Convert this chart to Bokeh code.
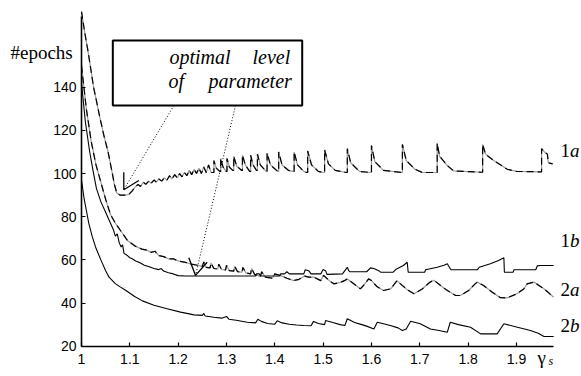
from bokeh.plotting import figure
from bokeh.models import FixedTicker, Label, BoxAnnotation, Range1d
from bokeh.embed import file_html
from bokeh.resources import INLINE

# ---------------- data ----------------
x_1a = [1.000, 1.007, 1.014, 1.025, 1.038, 1.047, 1.055, 1.063, 1.068, 1.073, 1.080, 1.090, 1.098, 1.105,
        1.110, 1.117, 1.122, 1.128, 1.133, 1.139, 1.144, 1.150, 1.155, 1.160, 1.166, 1.171, 1.177, 1.182,
        1.187, 1.193, 1.198, 1.203, 1.208, 1.213, 1.218, 1.223, 1.228, 1.233, 1.238, 1.243, 1.248, 1.253,
        1.258, 1.263, 1.268,
        1.274, 1.274, 1.279, 1.286,
        1.288, 1.288, 1.293, 1.299,
        1.301, 1.301, 1.306, 1.313,
        1.315, 1.315, 1.321, 1.331,
        1.333, 1.333, 1.339, 1.348,
        1.350, 1.350, 1.355, 1.362,
        1.364, 1.364, 1.370, 1.382,
        1.384, 1.384, 1.391, 1.406,
        1.408, 1.408, 1.415, 1.428, 1.438,
        1.440, 1.440, 1.447, 1.460, 1.466,
        1.468, 1.468, 1.476, 1.490, 1.501,
        1.503, 1.503, 1.511, 1.525, 1.548,
        1.550, 1.550, 1.557, 1.575, 1.598,
        1.600, 1.600, 1.607, 1.625, 1.662,
        1.664, 1.664, 1.672, 1.690, 1.705, 1.734,
        1.736, 1.736, 1.741, 1.757, 1.770, 1.828,
        1.830, 1.830, 1.836, 1.853, 1.881, 1.900, 1.950,
        1.952, 1.952, 1.958, 1.964, 1.966, 1.975]
y_1a = [175, 165, 156, 140, 126, 117, 110, 101, 95, 91, 90, 90, 90.3, 92,
        93.5, 95, 94, 96, 95, 96.5, 95.5, 97, 96, 97.5, 96.5, 98, 97, 99,
        97.5, 99.5, 98, 100, 98.5, 100.5, 99, 101.5, 99.5, 102, 100, 102.5, 100, 103,
        100.5, 104, 100.5,
        100.5, 106, 102.5, 101,
        101, 107, 103, 101,
        101, 107, 103, 101.5,
        101.5, 108, 103.5, 101.5,
        101.5, 108.5, 104, 101,
        101, 108.5, 104, 101.5,
        101.5, 109, 104, 101,
        101, 109.5, 104, 101,
        101, 110, 104, 101.5, 101,
        101, 110, 104, 101, 100.5,
        100.5, 110.5, 104, 101, 100.5,
        100.5, 111, 104.5, 101.5, 100.5,
        100.5, 111.5, 105, 101, 100.5,
        100.5, 113, 105.5, 101.5, 100.5,
        100.5, 113.5, 106, 102, 100.5, 100.5,
        100.5, 114, 108, 103.7, 101.2, 100.6,
        100.6, 113.5, 109, 106, 102, 101, 100.8,
        100.8, 111.5, 110, 109, 105, 104.5]

x_1b = [1.000, 1.008, 1.017, 1.025, 1.031, 1.040, 1.052, 1.060, 1.066, 1.070, 1.074, 1.078, 1.082, 1.085,
        1.088, 1.095, 1.100, 1.105, 1.112, 1.120, 1.130, 1.140, 1.150, 1.160, 1.165, 1.170, 1.180, 1.190,
        1.200, 1.215, 1.236, 1.300, 1.360, 1.362, 1.368, 1.370, 1.410, 1.412, 1.420, 1.425, 1.430, 1.460,
        1.463, 1.470, 1.475, 1.495, 1.500, 1.505, 1.508, 1.540, 1.545, 1.550, 1.553, 1.555, 1.590, 1.598,
        1.605, 1.615, 1.619, 1.645, 1.650, 1.666, 1.674, 1.676, 1.710, 1.712, 1.736, 1.750, 1.757, 1.763,
        1.765, 1.819, 1.823, 1.846, 1.863, 1.874, 1.875, 1.893, 1.895, 1.940, 1.943, 1.950, 1.977]
y_1b = [142, 124, 110, 100, 93, 87, 81, 77, 74, 71, 72, 68, 66, 67,
        63, 62, 61, 60.5, 59.5, 58.8, 57.5, 56.8, 56, 55.5, 56, 54.8, 54, 53.5,
        52.7, 52.5, 52.5, 52.5, 52.5, 53.5, 53.5, 52.5, 52.5, 53.5, 53.5, 54.5, 53.5, 53.5,
        55.4, 55, 53.5, 53.5, 55.5, 55, 53.3, 53.5, 55, 56.6, 55, 54.5, 54.5, 56.3,
        56, 55, 54.3, 54.3, 55.5, 57.4, 58.9, 54.3, 54.3, 55.4, 56.6, 57.5, 58.2, 55.9,
        55.4, 55.4, 56.6, 58.2, 59.7, 61, 54.3, 54.3, 55.4, 55.4, 57.2, 57.4, 57.4]

x_2a = [1.000, 1.010, 1.020, 1.030, 1.040, 1.050, 1.060, 1.070, 1.081, 1.095, 1.110, 1.125, 1.135, 1.144,
        1.152, 1.160, 1.170, 1.180, 1.190, 1.200, 1.213, 1.227, 1.240, 1.250, 1.253, 1.258, 1.266, 1.268,
        1.274, 1.282, 1.284, 1.290, 1.298, 1.300, 1.306, 1.315, 1.317, 1.323, 1.332, 1.334, 1.340, 1.350,
        1.352, 1.358, 1.370, 1.373, 1.380, 1.395, 1.400, 1.412, 1.425, 1.439, 1.450, 1.462, 1.470, 1.481,
        1.495, 1.501, 1.512, 1.522, 1.535, 1.545, 1.550, 1.560, 1.577, 1.585, 1.594, 1.600, 1.612, 1.625,
        1.640, 1.653, 1.660, 1.675, 1.688, 1.705, 1.720, 1.729, 1.743, 1.757, 1.774, 1.784, 1.801, 1.815,
        1.819, 1.832, 1.850, 1.867, 1.881, 1.901, 1.915, 1.922, 1.936, 1.957, 1.977]
y_2a = [150, 130, 115, 104, 96, 88, 81, 77, 73.5, 69, 66.5, 65, 64.5, 63.5,
        64, 62, 61.5, 60.5, 60.5, 59.5, 59, 58, 57.5, 57, 59, 56.5, 56.3, 58.5,
        56, 55.8, 58, 55.5, 55.3, 57.5, 55, 54.8, 57, 54.5, 54.3, 56.5, 54, 53.5,
        56, 53.3, 52.3, 54.5, 52, 51.5, 53.5, 52.7, 51.5, 50.4, 51, 52.5, 52, 52,
        50.4, 52.8, 50.5, 48.9, 49.5, 50.5, 51.2, 49.5, 46.6, 48.5, 51.2, 50.4, 47.5, 45.8,
        46.6, 50.4, 48.9, 46, 44.3, 46.5, 49.5, 50.6, 48.1, 45.8, 43.5, 43.5, 45.8, 49,
        49.7, 48.1, 45, 42.5, 42.4, 44.3, 46.5, 48.9, 49.7, 46.6, 42.7]

x_2b = [1.000, 1.005, 1.010, 1.015, 1.022, 1.029, 1.040, 1.050, 1.057, 1.070, 1.080, 1.092, 1.110, 1.126,
        1.150, 1.175, 1.205, 1.233, 1.250, 1.253, 1.256, 1.274, 1.290, 1.300, 1.305, 1.320, 1.343, 1.360,
        1.365, 1.372, 1.385, 1.400, 1.405, 1.415, 1.430, 1.445, 1.460, 1.475, 1.480, 1.490, 1.503, 1.505,
        1.520, 1.535, 1.545, 1.550, 1.565, 1.580, 1.590, 1.605, 1.612, 1.625, 1.639, 1.655, 1.664, 1.672,
        1.681, 1.701, 1.722, 1.740, 1.757, 1.763, 1.780, 1.805, 1.826, 1.860, 1.874, 1.902, 1.929, 1.945,
        1.957, 1.977]
y_2b = [97, 89, 83, 77, 71, 66, 60, 55, 52, 49, 47.5, 45.8, 43, 41,
        39, 37.5, 35.8, 34.5, 34.3, 35.2, 34, 33.4, 33, 33.8, 32.5, 32, 31.1, 30.8,
        32.5, 31.5, 30.5, 30.2, 31.8, 30.8, 30.2, 29.8, 29.6, 29.5, 31.5, 30.5, 30, 31.9,
        31, 30, 29.6, 32.7, 31, 30, 29.3, 28, 31.1, 30.4, 29.6, 28.5, 27.3, 28,
        31.6, 30.4, 28, 27.3, 26.5, 31.1, 30, 28.8, 25.7, 25.7, 30.4, 28.8, 27.3, 26,
        24.5, 24.5]

curve_names = ["1a", "1b", "2a", "2b"]
curve_label_y = [110.7, 69.0, 46.3, 29.8]

x_ticks = [1.0, 1.1, 1.2, 1.3, 1.4, 1.5, 1.6, 1.7, 1.8, 1.9]
x_tick_labels = ["1", "1.1", "1.2", "1.3", "1.4", "1.5", "1.6", "1.7", "1.8", "1.9"]
y_ticks = [20, 40, 60, 80, 100, 120, 140]

# annotation: "optimal level of parameter" pointers
ptr1_x = [1.191, 1.0875]
ptr1_y = [131.5, 92.5]
ptr2_x = [1.3186, 1.236]
ptr2_y = [131.5, 52.8]
vee1_x = [1.0875, 1.0875, 1.1186]
vee1_y = [100.6, 92.5, 96.8]
vee2_x = [1.222, 1.236, 1.260]
vee2_y = [61.0, 52.8, 58.9]

# ---------------- figure ----------------
# the frame covers the whole canvas; the axes sit at fixed data positions
p = figure(width=581, height=370,
           x_range=Range1d(0.8324, 2.0346), y_range=Range1d(8.74, 180.19),
           output_backend="svg", toolbar_location=None,
           min_border=0, min_border_left=0, min_border_right=0,
           min_border_top=0, min_border_bottom=0)
p.outline_line_color = None
p.xgrid.visible = False
p.ygrid.visible = False
p.background_fill_color = "white"
p.border_fill_color = "white"

for ax in (p.xaxis[0], p.yaxis[0]):
    ax.axis_line_width = 1.6
    ax.axis_line_color = "black"
    ax.major_tick_in = 4
    ax.major_tick_out = 0
    ax.major_tick_line_color = "black"
    ax.major_tick_line_width = 1.2
    ax.minor_tick_line_color = None
    ax.major_label_text_font = "Liberation Sans"
    ax.major_label_text_font_size = "14px"
    ax.major_label_text_color = "black"

p.xaxis[0].fixed_location = 20
p.xaxis[0].bounds = (1.0, 1.9766)
p.xaxis[0].ticker = FixedTicker(ticks=x_ticks)
p.xaxis[0].major_label_overrides = dict(zip(x_ticks, x_tick_labels))
p.xaxis[0].major_label_standoff = 8
p.yaxis[0].fixed_location = 1.0
p.yaxis[0].bounds = (20, 173)
p.yaxis[0].ticker = FixedTicker(ticks=y_ticks)
p.yaxis[0].major_label_standoff = 5

grey = "#9a9a9a"
# dashed-looking curves: grey line with black dashes on top
p.line(x_1a, y_1a, line_color=grey, line_width=1.2)
p.line(x_1a, y_1a, line_color="black", line_width=1.2, line_dash="7 4")
p.line(x_2a, y_2a, line_color=grey, line_width=1.2)
p.line(x_2a, y_2a, line_color="black", line_width=1.2, line_dash="7 4")
p.line(x_1b, y_1b, line_color="black", line_width=1.1)
p.line(x_2b, y_2b, line_color="black", line_width=1.1)

# pointers
p.line(ptr1_x, ptr1_y, line_color="black", line_width=1, line_dash="1 2")
p.line(ptr2_x, ptr2_y, line_color="black", line_width=1, line_dash="1 2")
p.line(vee1_x, vee1_y, line_color="black", line_width=1.3)
p.line(vee2_x, vee2_y, line_color="black", line_width=1.3)

# annotation box
box = BoxAnnotation(left=1.0648, right=1.4567, top=161.66, bottom=131.54,
                    fill_color="white", fill_alpha=1.0,
                    line_color="black", line_alpha=1.0, line_width=2)
p.add_layout(box)

serif = "Liberation Serif"
for txt, xx, yy in [("optimal", 1.1821, 154.0), ("level", 1.3538, 154.0),
                    ("of", 1.1800, 143.1), ("parameter", 1.2628, 143.1)]:
    p.add_layout(Label(x=xx, y=yy, text=txt, text_font=serif, text_font_size="20px",
                       text_font_style="italic", text_color="black", text_baseline="middle"))

# y label "#epochs"
p.add_layout(Label(x=0.8531, y=156.0, text="#epochs", text_font=serif, text_font_size="19px",
                   text_color="black", text_baseline="middle"))

# x label gamma_s
p.add_layout(Label(x=1.9435, y=14.6, text="γ", text_font=serif, text_font_size="19px",
                   text_color="black", text_baseline="middle"))
p.add_layout(Label(x=1.9663, y=13.0, text="s", text_font=serif, text_font_size="12px",
                   text_font_style="italic", text_color="black", text_baseline="middle"))

# curve labels
for name, yy in zip(curve_names, curve_label_y):
    p.add_layout(Label(x=1.9911, y=yy, text=name[0], text_font=serif, text_font_size="19px",
                       text_color="black", text_baseline="middle"))
    p.add_layout(Label(x=2.0108, y=yy, text=name[1], text_font=serif, text_font_size="19px",
                       text_font_style="italic", text_color="black", text_baseline="middle"))

open("out.html", "w").write(file_html(p, INLINE))
